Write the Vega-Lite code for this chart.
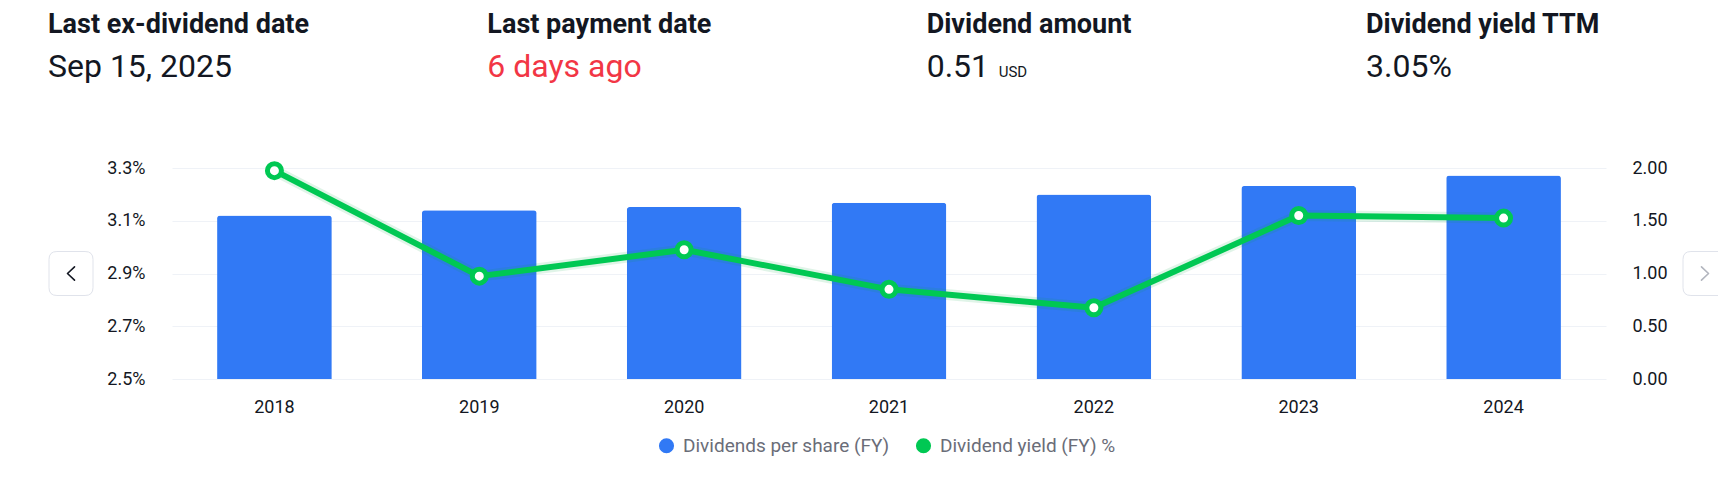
{
  "$schema": "https://vega.github.io/schema/vega-lite/v6.json",
  "width": 1434,
  "height": 211,
  "autosize": {"type": "none"},
  "padding": {"left": 172, "top": 168, "right": 112, "bottom": 104},
  "background": "white",
  "config": {
    "font": "Roboto",
    "view": {"stroke": null},
    "axis": {
      "labelFont": "Roboto",
      "labelFontSize": 18,
      "labelColor": "#131722",
      "domain": false,
      "ticks": false,
      "tickSize": 0,
      "title": null,
      "gridColor": "#eff2f7",
      "gridWidth": 1
    },
    "legend": {
      "orient": "none",
      "legendX": 485,
      "legendY": 268,
      "direction": "horizontal",
      "title": null,
      "symbolType": "circle",
      "symbolSize": 185,
      "labelFont": "Roboto",
      "labelFontSize": 19,
      "labelColor": "#6a6d78",
      "labelOffset": 7,
      "labelLimit": 400,
      "columnPadding": 23,
      "padding": 0
    }
  },
  "datasets": {
    "dividends": [
      {"year": "2018", "dps": 1.55, "yield": 3.29},
      {"year": "2019", "dps": 1.6, "yield": 2.89},
      {"year": "2020", "dps": 1.63, "yield": 2.99},
      {"year": "2021", "dps": 1.67, "yield": 2.84},
      {"year": "2022", "dps": 1.75, "yield": 2.77},
      {"year": "2023", "dps": 1.83, "yield": 3.12},
      {"year": "2024", "dps": 1.93, "yield": 3.11}
    ],
    "summary": [
      {"col": 0, "label": "Last ex-dividend date", "value": "Sep 15, 2025"},
      {"col": 1, "label": "Last payment date", "value": "6 days ago"},
      {"col": 2, "label": "Dividend amount", "value": "0.51", "unit": "USD"},
      {"col": 3, "label": "Dividend yield TTM", "value": "3.05%"}
    ],
    "nav": [{"side": "prev"}, {"side": "next"}]
  },
  "resolve": {"scale": {"x": "independent", "y": "independent"}},
  "layer": [
    {
      "data": {"name": "dividends"},
      "encoding": {
        "x": {
          "field": "year",
          "type": "ordinal",
          "scale": {"type": "band", "paddingInner": 0.44, "paddingOuter": 0.22},
          "axis": {"labelAngle": 0, "labelPadding": 19, "grid": false}
        }
      },
      "resolve": {"scale": {"y": "independent"}},
      "layer": [
        {
          "mark": {"type": "bar", "cornerRadiusTopLeft": 3, "cornerRadiusTopRight": 3},
          "encoding": {
            "y": {
              "field": "dps",
              "type": "quantitative",
              "scale": {"domain": [0, 2], "nice": false},
              "axis": {"orient": "right", "values": [0, 0.5, 1, 1.5, 2], "format": ".2f", "grid": false, "labelPadding": 26}
            },
            "color": {
              "datum": "Dividends per share (FY)",
              "type": "nominal",
              "scale": {
                "domain": ["Dividends per share (FY)", "Dividend yield (FY) %"],
                "range": ["#3179f5", "#00c853"]
              },
              "legend": {
                "encode": {
                  "symbols": {
                    "update": {
                      "fill": {"scale": "color", "field": "value"},
                      "stroke": {"value": "transparent"},
                      "opacity": {"value": 1}
                    }
                  }
                }
              }
            }
          }
        },
        {
          "encoding": {
            "y": {
              "field": "yield",
              "type": "quantitative",
              "scale": {"domain": [2.5, 3.3], "nice": false, "zero": false},
              "axis": {
                "orient": "left",
                "values": [2.5, 2.7, 2.9, 3.1, 3.3],
                "labelExpr": "format(datum.value, '.1f') + '%'",
                "grid": true,
                "labelPadding": 27
              }
            }
          },
          "layer": [
            {"mark": {"type": "line", "strokeWidth": 11, "color": "#00a844", "opacity": 0.12}},
            {
              "mark": {"type": "line", "strokeWidth": 6, "strokeJoin": "round"},
              "encoding": {"color": {"datum": "Dividend yield (FY) %", "type": "nominal"}}
            },
            {
              "mark": {
                "type": "point",
                "shape": "circle",
                "size": 196,
                "filled": true,
                "fill": "#ffffff",
                "stroke": "#00c853",
                "strokeWidth": 5,
                "opacity": 1
              }
            }
          ]
        }
      ]
    },
    {
      "data": {"name": "summary"},
      "mark": {"type": "text", "align": "left", "baseline": "alphabetic", "fontWeight": "bold", "fontSize": 27, "color": "#131722"},
      "encoding": {
        "x": {"field": "col", "type": "quantitative", "scale": {"domain": [0, 3], "range": [-124, 1194], "zero": false, "nice": false}, "axis": null},
        "y": {"datum": "label", "type": "nominal", "scale": {"type": "point", "domain": ["label", "value"], "range": [-135, -91], "padding": 0}, "axis": null},
        "text": {"field": "label"}
      }
    },
    {
      "data": {"name": "summary"},
      "mark": {"type": "text", "align": "left", "baseline": "alphabetic", "fontSize": 32},
      "encoding": {
        "x": {"field": "col", "type": "quantitative", "scale": {"domain": [0, 3], "range": [-124, 1194], "zero": false, "nice": false}, "axis": null},
        "y": {"datum": "value", "type": "nominal", "scale": {"type": "point", "domain": ["label", "value"], "range": [-135, -91], "padding": 0}, "axis": null},
        "text": {"field": "value"},
        "color": {"condition": {"test": "datum.col === 1", "value": "#f23645"}, "value": "#131722"}
      }
    },
    {
      "data": {"name": "summary"},
      "transform": [{"filter": "datum.unit"}],
      "mark": {"type": "text", "align": "left", "baseline": "alphabetic", "fontSize": 15, "dx": 72, "color": "#131722"},
      "encoding": {
        "x": {"field": "col", "type": "quantitative", "scale": {"domain": [0, 3], "range": [-124, 1194], "zero": false, "nice": false}, "axis": null},
        "y": {"datum": "value", "type": "nominal", "scale": {"type": "point", "domain": ["label", "value"], "range": [-135, -91], "padding": 0}, "axis": null},
        "text": {"field": "unit"}
      }
    },
    {
      "data": {"name": "nav"},
      "mark": {
        "type": "point",
        "shape": "M -0.64 -1 L 0.64 -1 Q 1 -1 1 -0.64 L 1 0.64 Q 1 1 0.64 1 L -0.64 1 Q -1 1 -1 0.64 L -1 -0.64 Q -1 -1 -0.64 -1 Z",
        "size": 1936,
        "filled": true,
        "fill": "#ffffff",
        "stroke": "#e0e3eb",
        "strokeWidth": 1,
        "opacity": 1
      },
      "encoding": {
        "x": {"field": "side", "type": "nominal", "scale": {"type": "point", "domain": ["prev", "next"], "range": [-101, 1533], "padding": 0}, "axis": null}
      }
    },
    {
      "data": {"name": "nav"},
      "mark": {"type": "point", "size": 1936, "filled": false, "strokeWidth": 1.6, "opacity": 1, "strokeCap": "round", "strokeJoin": "round"},
      "encoding": {
        "x": {"field": "side", "type": "nominal", "scale": {"type": "point", "domain": ["prev", "next"], "range": [-101, 1533], "padding": 0}, "axis": null},
        "shape": {
          "field": "side",
          "type": "nominal",
          "scale": {"domain": ["prev", "next"], "range": ["M 0.16 -0.3 L -0.16 0 L 0.16 0.3", "M -0.16 -0.3 L 0.16 0 L -0.16 0.3"]},
          "legend": null
        },
        "stroke": {"condition": {"test": "datum.side === 'prev'", "value": "#131722"}, "value": "#b2b5be"}
      }
    }
  ]
}
